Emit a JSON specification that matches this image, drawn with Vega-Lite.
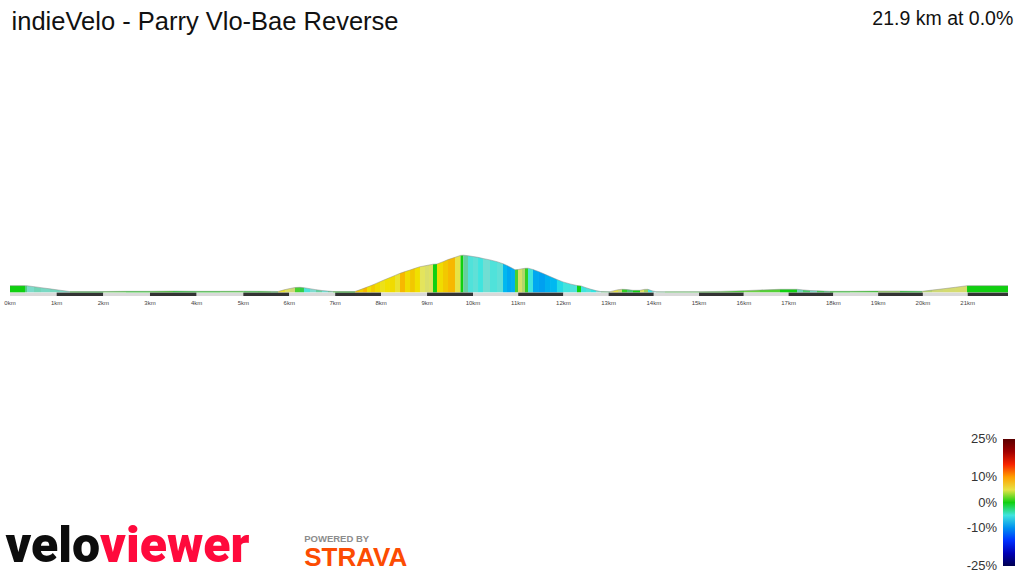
{
  "$schema": "https://vega.github.io/schema/vega-lite/v6.json",
  "width": 1024,
  "height": 576,
  "autosize": {"type": "none"},
  "padding": 0,
  "background": "white",
  "config": {"view": {"stroke": null}},
  "datasets": {
    "kms": [
      {"k": 0, "k2": 1, "band": "light", "label": "0km"},
      {"k": 1, "k2": 2, "band": "dark", "label": "1km"},
      {"k": 2, "k2": 3, "band": "light", "label": "2km"},
      {"k": 3, "k2": 4, "band": "dark", "label": "3km"},
      {"k": 4, "k2": 5, "band": "light", "label": "4km"},
      {"k": 5, "k2": 6, "band": "dark", "label": "5km"},
      {"k": 6, "k2": 7, "band": "light", "label": "6km"},
      {"k": 7, "k2": 8, "band": "dark", "label": "7km"},
      {"k": 8, "k2": 9, "band": "light", "label": "8km"},
      {"k": 9, "k2": 10, "band": "dark", "label": "9km"},
      {"k": 10, "k2": 11, "band": "light", "label": "10km"},
      {"k": 11, "k2": 12, "band": "dark", "label": "11km"},
      {"k": 12, "k2": 13, "band": "light", "label": "12km"},
      {"k": 13, "k2": 14, "band": "dark", "label": "13km"},
      {"k": 14, "k2": 15, "band": "light", "label": "14km"},
      {"k": 15, "k2": 16, "band": "dark", "label": "15km"},
      {"k": 16, "k2": 17, "band": "light", "label": "16km"},
      {"k": 17, "k2": 18, "band": "dark", "label": "17km"},
      {"k": 18, "k2": 19, "band": "light", "label": "18km"},
      {"k": 19, "k2": 20, "band": "dark", "label": "19km"},
      {"k": 20, "k2": 21, "band": "light", "label": "20km"},
      {"k": 21, "k2": 21.9, "band": "dark", "label": "21km"}
    ],
    "profile": [
      {"s":1,"km":0,"e":26.4,"g":0},{"s":1,"km":0.321,"e":26.4,"g":0},
      {"s":2,"km":0.321,"e":26.4,"g":-1},{"s":2,"km":0.364,"e":26.2,"g":-1},
      {"s":3,"km":0.364,"e":26.2,"g":-2.8},{"s":3,"km":0.514,"e":22.6,"g":-2.8},
      {"s":4,"km":0.514,"e":22.6,"g":-2.2},{"s":4,"km":0.664,"e":18.7,"g":-2.2},
      {"s":5,"km":0.664,"e":18.7,"g":-2.6},{"s":5,"km":0.857,"e":13.8,"g":-2.6},
      {"s":6,"km":0.857,"e":13.8,"g":-2.4},{"s":6,"km":1.072,"e":8.3,"g":-2.4},
      {"s":7,"km":1.072,"e":8.3,"g":-2.6},{"s":7,"km":1.286,"e":2.8,"g":-2.6},
      {"s":8,"km":1.286,"e":2.8,"g":0.2},{"s":8,"km":1.5,"e":3.2,"g":0.2},
      {"s":9,"km":1.5,"e":3.2,"g":-0.3},{"s":9,"km":1.993,"e":3.2,"g":-0.3},
      {"s":10,"km":1.993,"e":3.2,"g":0.3},{"s":10,"km":2.486,"e":4.0,"g":0.3},
      {"s":11,"km":2.486,"e":4.0,"g":0},{"s":11,"km":3.0,"e":4.0,"g":0},
      {"s":12,"km":3.0,"e":4.0,"g":0.4},{"s":12,"km":3.493,"e":4.8,"g":0.4},
      {"s":13,"km":3.493,"e":4.8,"g":-0.3},{"s":13,"km":4.008,"e":4.0,"g":-0.3},
      {"s":14,"km":4.008,"e":4.0,"g":0},{"s":14,"km":4.501,"e":4.0,"g":0},
      {"s":15,"km":4.501,"e":4.0,"g":0.3},{"s":15,"km":5.0,"e":4.4,"g":0.3},
      {"s":16,"km":5.0,"e":4.4,"g":-0.2},{"s":16,"km":5.32,"e":4.0,"g":-0.2},
      {"s":17,"km":5.32,"e":4.0,"g":0},{"s":17,"km":5.603,"e":3.6,"g":0},
      {"s":18,"km":5.603,"e":3.6,"g":-0.4},{"s":18,"km":5.755,"e":3.2,"g":-0.4},
      {"s":19,"km":5.755,"e":3.2,"g":5.5},{"s":19,"km":5.908,"e":10.8,"g":5.5},
      {"s":20,"km":5.908,"e":10.8,"g":4},{"s":20,"km":6.017,"e":15.2,"g":4},
      {"s":21,"km":6.017,"e":15.2,"g":2.5},{"s":21,"km":6.125,"e":19.2,"g":2.5},
      {"s":22,"km":6.125,"e":19.2,"g":0.5},{"s":22,"km":6.234,"e":20.0,"g":0.5},
      {"s":23,"km":6.234,"e":20.0,"g":-0.5},{"s":23,"km":6.321,"e":18.4,"g":-0.5},
      {"s":24,"km":6.321,"e":18.4,"g":-4.5},{"s":24,"km":6.452,"e":14.4,"g":-4.5},
      {"s":25,"km":6.452,"e":14.4,"g":-3},{"s":25,"km":6.582,"e":10.4,"g":-3},
      {"s":26,"km":6.582,"e":10.4,"g":-1.5},{"s":26,"km":6.713,"e":7.2,"g":-1.5},
      {"s":27,"km":6.713,"e":7.2,"g":-3.5},{"s":27,"km":6.844,"e":4.8,"g":-3.5},
      {"s":28,"km":6.844,"e":4.8,"g":-1.2},{"s":28,"km":6.953,"e":3.2,"g":-1.2},
      {"s":29,"km":6.953,"e":3.2,"g":0},{"s":29,"km":7.431,"e":3.2,"g":0},
      {"s":30,"km":7.431,"e":3.2,"g":8},{"s":30,"km":7.519,"e":8.8,"g":8},
      {"s":31,"km":7.519,"e":8.8,"g":7.5},{"s":31,"km":7.606,"e":14.8,"g":7.5},
      {"s":32,"km":7.606,"e":14.8,"g":8.8},{"s":32,"km":7.693,"e":20.8,"g":8.8},
      {"s":33,"km":7.693,"e":20.8,"g":6.5},{"s":33,"km":7.78,"e":26.8,"g":6.5},
      {"s":34,"km":7.78,"e":26.8,"g":7.8},{"s":34,"km":7.867,"e":33.6,"g":7.8},
      {"s":35,"km":7.867,"e":33.6,"g":6.8},{"s":35,"km":7.976,"e":42.4,"g":6.8},
      {"s":36,"km":7.976,"e":42.4,"g":6},{"s":36,"km":8.084,"e":50.8,"g":6},
      {"s":37,"km":8.084,"e":50.8,"g":6.5},{"s":37,"km":8.193,"e":59.2,"g":6.5},
      {"s":38,"km":8.193,"e":59.2,"g":6.8},{"s":38,"km":8.302,"e":67.6,"g":6.8},
      {"s":39,"km":8.302,"e":67.6,"g":5.5},{"s":39,"km":8.411,"e":76.0,"g":5.5},
      {"s":40,"km":8.411,"e":76.0,"g":8.8},{"s":40,"km":8.52,"e":82.8,"g":8.8},
      {"s":41,"km":8.52,"e":82.8,"g":6.8},{"s":41,"km":8.629,"e":89.2,"g":6.8},
      {"s":42,"km":8.629,"e":89.2,"g":8},{"s":42,"km":8.737,"e":96.0,"g":8},
      {"s":43,"km":8.737,"e":96.0,"g":6.5},{"s":43,"km":8.846,"e":102.4,"g":6.5},
      {"s":44,"km":8.846,"e":102.4,"g":4.5},{"s":44,"km":8.955,"e":106.0,"g":4.5},
      {"s":45,"km":8.955,"e":106.0,"g":3.5},{"s":45,"km":9.042,"e":109.2,"g":3.5},
      {"s":46,"km":9.042,"e":109.2,"g":4},{"s":46,"km":9.129,"e":112.4,"g":4},
      {"s":47,"km":9.129,"e":112.4,"g":0},{"s":47,"km":9.216,"e":113.2,"g":0},
      {"s":48,"km":9.216,"e":113.2,"g":6.8},{"s":48,"km":9.347,"e":122.4,"g":6.8},
      {"s":49,"km":9.347,"e":122.4,"g":8},{"s":49,"km":9.456,"e":130.8,"g":8},
      {"s":50,"km":9.456,"e":130.8,"g":8.8},{"s":50,"km":9.608,"e":140.0,"g":8.8},
      {"s":51,"km":9.608,"e":140.0,"g":5},{"s":51,"km":9.728,"e":147.6,"g":5},
      {"s":52,"km":9.728,"e":147.6,"g":0},{"s":52,"km":9.793,"e":148.4,"g":0},
      {"s":53,"km":9.793,"e":148.4,"g":-1.5},{"s":53,"km":9.891,"e":146.4,"g":-1.5},
      {"s":54,"km":9.891,"e":146.4,"g":-4.5},{"s":54,"km":10.0,"e":143.2,"g":-4.5},
      {"s":55,"km":10.0,"e":143.2,"g":-4},{"s":55,"km":10.111,"e":140.0,"g":-4},
      {"s":56,"km":10.111,"e":140.0,"g":-5},{"s":56,"km":10.221,"e":135.2,"g":-5},
      {"s":57,"km":10.221,"e":135.2,"g":-3.5},{"s":57,"km":10.376,"e":129.6,"g":-3.5},
      {"s":58,"km":10.376,"e":129.6,"g":-4.5},{"s":58,"km":10.531,"e":122.4,"g":-4.5},
      {"s":59,"km":10.531,"e":122.4,"g":-4},{"s":59,"km":10.664,"e":114.4,"g":-4},
      {"s":60,"km":10.664,"e":114.4,"g":-7.5},{"s":60,"km":10.752,"e":107.2,"g":-7.5},
      {"s":61,"km":10.752,"e":107.2,"g":-8.5},{"s":61,"km":10.841,"e":99.2,"g":-8.5},
      {"s":62,"km":10.841,"e":99.2,"g":-8},{"s":62,"km":10.929,"e":90.4,"g":-8},
      {"s":63,"km":10.929,"e":90.4,"g":0.5},{"s":63,"km":10.996,"e":91.2,"g":0.5},
      {"s":64,"km":10.996,"e":91.2,"g":3.5},{"s":64,"km":11.084,"e":94.0,"g":3.5},
      {"s":65,"km":11.084,"e":94.0,"g":2},{"s":65,"km":11.15,"e":96.0,"g":2},
      {"s":66,"km":11.15,"e":96.0,"g":0.3},{"s":66,"km":11.217,"e":96.4,"g":0.3},
      {"s":67,"km":11.217,"e":96.4,"g":-5},{"s":67,"km":11.327,"e":91.2,"g":-5},
      {"s":68,"km":11.327,"e":91.2,"g":-8.5},{"s":68,"km":11.46,"e":82.4,"g":-8.5},
      {"s":69,"km":11.46,"e":82.4,"g":-9},{"s":69,"km":11.593,"e":72.0,"g":-9},
      {"s":70,"km":11.593,"e":72.0,"g":-8},{"s":70,"km":11.704,"e":63.2,"g":-8},
      {"s":71,"km":11.704,"e":63.2,"g":-7.5},{"s":71,"km":11.858,"e":51.2,"g":-7.5},
      {"s":72,"km":11.858,"e":51.2,"g":-6},{"s":72,"km":11.991,"e":41.6,"g":-6},
      {"s":73,"km":11.991,"e":41.6,"g":-5},{"s":73,"km":12.146,"e":33.6,"g":-5},
      {"s":74,"km":12.146,"e":33.6,"g":-4.5},{"s":74,"km":12.301,"e":27.2,"g":-4.5},
      {"s":75,"km":12.301,"e":27.2,"g":0},{"s":75,"km":12.389,"e":25.6,"g":0},
      {"s":76,"km":12.389,"e":25.6,"g":-5},{"s":76,"km":12.5,"e":18.4,"g":-5},
      {"s":77,"km":12.5,"e":18.4,"g":-4.5},{"s":77,"km":12.611,"e":12.0,"g":-4.5},
      {"s":78,"km":12.611,"e":12.0,"g":-5.5},{"s":78,"km":12.721,"e":6.8,"g":-5.5},
      {"s":79,"km":12.721,"e":6.8,"g":-3},{"s":79,"km":12.832,"e":2.8,"g":-3},
      {"s":80,"km":12.832,"e":2.8,"g":-0.8},{"s":80,"km":13.031,"e":2.4,"g":-0.8},
      {"s":81,"km":13.031,"e":2.4,"g":3.5},{"s":81,"km":13.119,"e":6.4,"g":3.5},
      {"s":82,"km":13.119,"e":6.4,"g":5},{"s":82,"km":13.208,"e":10.4,"g":5},
      {"s":83,"km":13.208,"e":10.4,"g":2.5},{"s":83,"km":13.296,"e":12.0,"g":2.5},
      {"s":84,"km":13.296,"e":12.0,"g":0.3},{"s":84,"km":13.407,"e":11.2,"g":0.3},
      {"s":85,"km":13.407,"e":11.2,"g":-0.8},{"s":85,"km":13.54,"e":8.0,"g":-0.8},
      {"s":86,"km":13.54,"e":8.0,"g":0},{"s":86,"km":13.695,"e":8.0,"g":0},
      {"s":87,"km":13.695,"e":8.0,"g":4},{"s":87,"km":13.783,"e":11.6,"g":4},
      {"s":88,"km":13.783,"e":11.6,"g":1.5},{"s":88,"km":13.872,"e":12.0,"g":1.5},
      {"s":89,"km":13.872,"e":12.0,"g":-5},{"s":89,"km":13.96,"e":6.0,"g":-5},
      {"s":90,"km":13.96,"e":6.0,"g":-3},{"s":90,"km":14.049,"e":2.4,"g":-3},
      {"s":91,"km":14.049,"e":2.4,"g":-1},{"s":91,"km":14.248,"e":2.0,"g":-1},
      {"s":92,"km":14.248,"e":2.0,"g":0},{"s":92,"km":15.0,"e":2.4,"g":0},
      {"s":93,"km":15.0,"e":2.4,"g":0.3},{"s":93,"km":15.469,"e":3.6,"g":0.3},
      {"s":94,"km":15.469,"e":3.6,"g":0.5},{"s":94,"km":16.005,"e":6.4,"g":0.5},
      {"s":95,"km":16.005,"e":6.4,"g":0.8},{"s":95,"km":16.362,"e":9.2,"g":0.8},
      {"s":96,"km":16.362,"e":9.2,"g":0.6},{"s":96,"km":16.809,"e":12.0,"g":0.6},
      {"s":97,"km":16.809,"e":12.0,"g":0},{"s":97,"km":17.188,"e":12.0,"g":0},
      {"s":98,"km":17.188,"e":12.0,"g":-2.2},{"s":98,"km":17.322,"e":9.6,"g":-2.2},
      {"s":99,"km":17.322,"e":9.6,"g":-0.8},{"s":99,"km":17.479,"e":7.2,"g":-0.8},
      {"s":100,"km":17.479,"e":7.2,"g":-2.5},{"s":100,"km":17.635,"e":6.0,"g":-2.5},
      {"s":101,"km":17.635,"e":6.0,"g":-0.5},{"s":101,"km":17.791,"e":4.8,"g":-0.5},
      {"s":102,"km":17.791,"e":4.8,"g":-1},{"s":102,"km":17.925,"e":4.0,"g":-1},
      {"s":103,"km":17.925,"e":4.0,"g":0},{"s":103,"km":18.372,"e":4.0,"g":0},
      {"s":104,"km":18.372,"e":4.0,"g":0.3},{"s":104,"km":18.997,"e":4.8,"g":0.3},
      {"s":105,"km":18.997,"e":4.8,"g":1.2},{"s":105,"km":19.489,"e":4.8,"g":1.2},
      {"s":106,"km":19.489,"e":4.8,"g":-0.3},{"s":106,"km":19.98,"e":4.0,"g":-0.3},
      {"s":107,"km":19.98,"e":4.0,"g":2},{"s":107,"km":20.203,"e":8.8,"g":2},
      {"s":108,"km":20.203,"e":8.8,"g":2.6},{"s":108,"km":20.449,"e":14.0,"g":2.6},
      {"s":109,"km":20.449,"e":14.0,"g":3},{"s":109,"km":20.717,"e":20.0,"g":3},
      {"s":110,"km":20.717,"e":20.0,"g":3.2},{"s":110,"km":20.985,"e":26.4,"g":3.2},
      {"s":111,"km":20.985,"e":26.4,"g":0},{"s":111,"km":21.9,"e":26.4,"g":0}
    ]
  },
  "layer": [
    {
      "data": {"name": "kms"},
      "mark": {"type": "rect"},
      "encoding": {
        "x": {"field": "k", "type": "quantitative", "axis": null,
              "scale": {"domain": [0, 5, 10, 15, 21.9], "range": [10, 243.3, 473, 699, 1008], "nice": false, "zero": false}},
        "x2": {"field": "k2"},
        "y": {"datum": -1, "type": "quantitative", "axis": null,
              "scale": {"domain": [-1134.8, 1169.2], "nice": false, "zero": false}},
        "y2": {"datum": -15},
        "fill": {"field": "band", "type": "nominal", "legend": null,
                 "scale": {"domain": ["light", "dark"], "range": ["#d9d9d9", "#333333"]}}
      }
    },
    {
      "data": {"name": "profile"},
      "mark": {"type": "area", "interpolate": "linear"},
      "encoding": {
        "x": {"field": "km", "type": "quantitative"},
        "y": {"field": "e", "type": "quantitative"},
        "y2": {"datum": 0},
        "detail": {"field": "s", "type": "nominal"},
        "color": {
          "field": "g", "type": "quantitative",
          "scale": {
            "type": "linear",
            "domain": [-25, -21, -18, -15, -12, -10, -7.5, -5.5, -3, -1.2, 0, 1, 2.5, 4.5, 6.5, 8, 10, 12.5, 14.5, 16.5, 19, 22, 25],
            "range": ["#000050", "#0000a0", "#0000e0", "#0030ff", "#0060f0", "#0090f0", "#00b8f0", "#30e6e2", "#80dccf", "#60cc98", "#10d010", "#80d050", "#cfd878", "#e4e45c", "#f0e000", "#f2c800", "#ffa000", "#ff7000", "#ff3000", "#e00000", "#b00000", "#800000", "#5a0000"],
            "interpolate": "rgb"
          },
          "legend": {
            "orient": "none", "legendX": 1003, "legendY": 439,
            "direction": "vertical", "title": null, "padding": 0,
            "gradientLength": 127, "gradientThickness": 12, "gradientStrokeWidth": 0,
            "values": [-25, -10, 0, 10, 25],
            "labelExpr": "datum.value + '%'",
            "labelFont": "Liberation Sans", "labelFontSize": 13, "labelColor": "#333333",
            "labelOverlap": false,
            "encode": {"labels": {"update": {"align": {"value": "right"}, "baseline": {"value": "middle"}, "x": {"value": -6}}}}
          }
        }
      }
    },
    {
      "data": {"name": "profile"},
      "mark": {"type": "line", "color": "#8a8a8a", "strokeWidth": 0.6, "opacity": 0.8},
      "encoding": {
        "x": {"field": "km", "type": "quantitative"},
        "y": {"field": "e", "type": "quantitative"}
      }
    },
    {
      "data": {"name": "kms"},
      "mark": {"type": "text", "font": "Liberation Sans", "fontSize": 6, "color": "#444444", "align": "center", "baseline": "middle"},
      "encoding": {
        "x": {"field": "k", "type": "quantitative"},
        "y": {"datum": -42.8},
        "text": {"field": "label"}
      }
    },
    {
      "data": {"values": [{"t": "indieVelo - Parry Vlo-Bae Reverse"}]},
      "mark": {"type": "text", "font": "Liberation Sans", "fontSize": 25.5, "color": "#111111", "align": "left", "baseline": "alphabetic"},
      "encoding": {"x": {"datum": 0.034}, "y": {"datum": 1049}, "text": {"field": "t"}}
    },
    {
      "data": {"values": [{"t": "21.9 km at 0.0%"}]},
      "mark": {"type": "text", "font": "Liberation Sans", "fontSize": 19.5, "color": "#111111", "align": "right", "baseline": "alphabetic"},
      "encoding": {"x": {"datum": 22.018}, "y": {"datum": 1069.2}, "text": {"field": "t"}}
    },
    {
      "data": {"values": [{"t": "velo"}]},
      "mark": {"type": "text", "font": "Roboto", "fontWeight": 900, "fontSize": 50, "color": "#0d0d0d", "align": "right", "baseline": "alphabetic"},
      "encoding": {"x": {"datum": 1.93}, "y": {"datum": -1078.8}, "text": {"field": "t"}}
    },
    {
      "data": {"values": [{"t": "viewer"}]},
      "mark": {"type": "text", "font": "Roboto", "fontWeight": 900, "fontSize": 50, "color": "#ff0a3c", "align": "left", "baseline": "alphabetic"},
      "encoding": {"x": {"datum": 1.93}, "y": {"datum": -1078.8}, "text": {"field": "t"}}
    },
    {
      "data": {"values": [{"t": "POWERED BY"}]},
      "mark": {"type": "text", "font": "Liberation Sans", "fontWeight": "bold", "fontSize": 9.5, "color": "#8c8c8c", "align": "left", "baseline": "alphabetic"},
      "encoding": {"x": {"datum": 6.326}, "y": {"datum": -997.6}, "text": {"field": "t"}}
    },
    {
      "data": {"values": [{"t": "STRAVA"}]},
      "mark": {"type": "text", "font": "Liberation Sans", "fontWeight": "bold", "fontSize": 26, "color": "#fc4c02", "align": "left", "baseline": "alphabetic"},
      "encoding": {"x": {"datum": 6.326}, "y": {"datum": -1096}, "text": {"field": "t"}}
    }
  ]
}
